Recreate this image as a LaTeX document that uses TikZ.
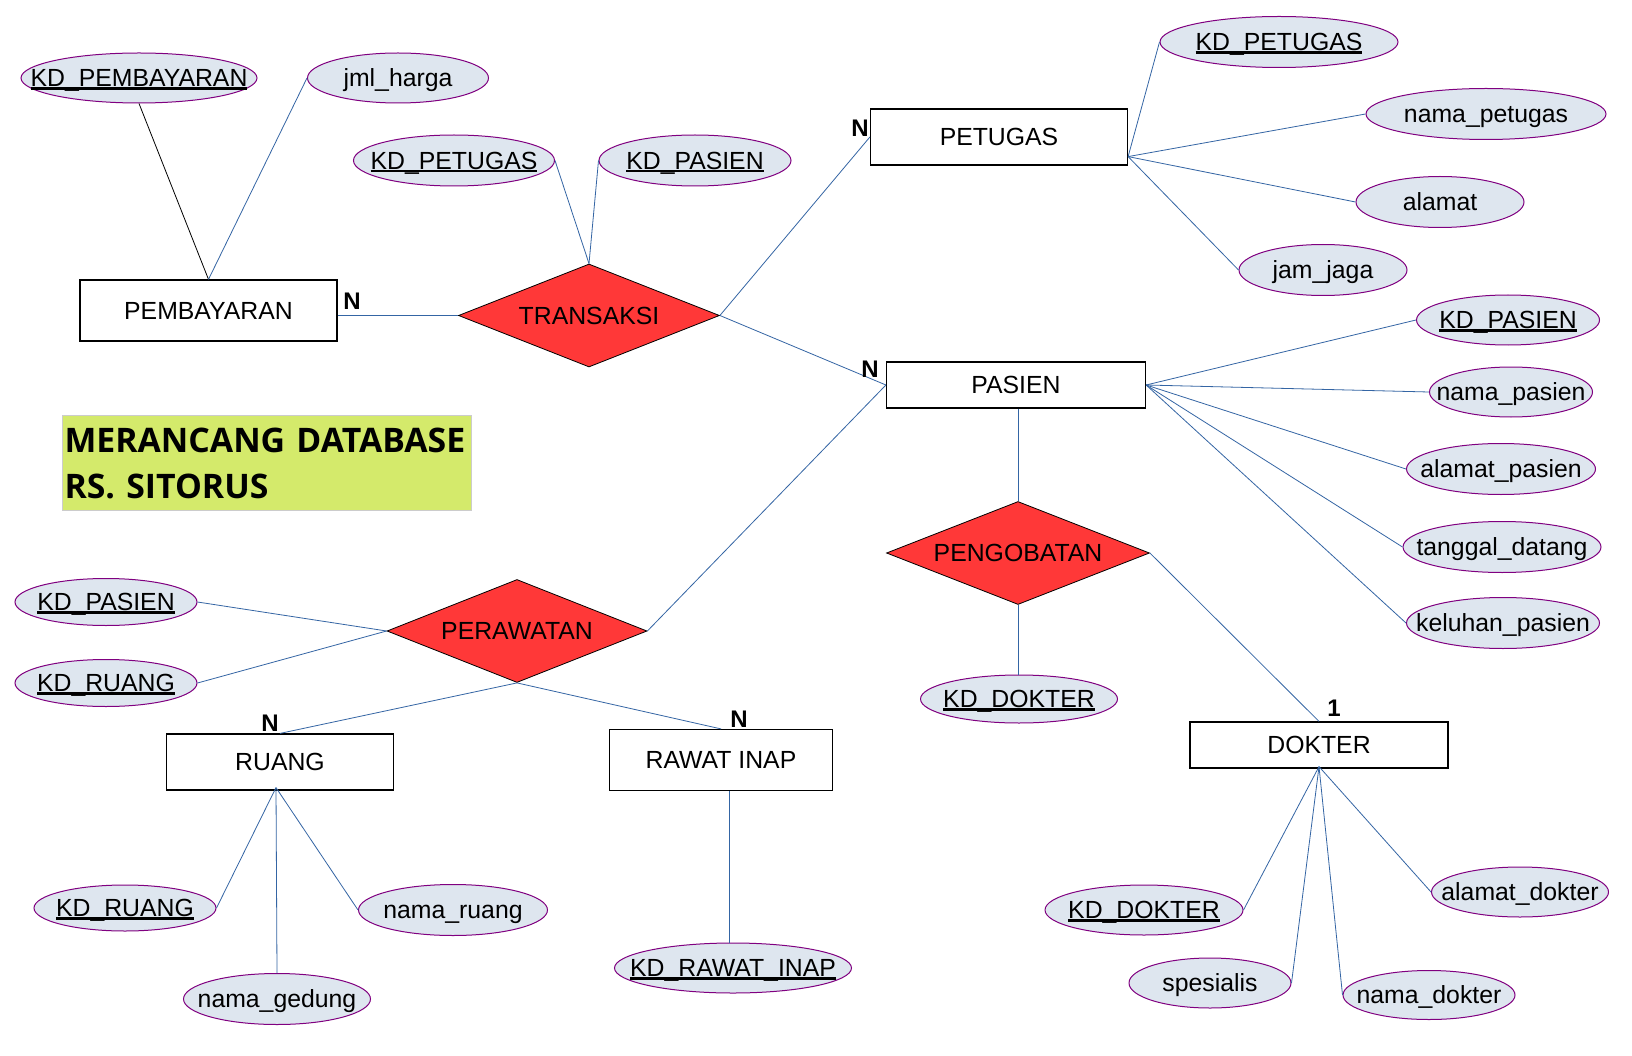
\documentclass[tikz,border=0pt]{standalone}
\usepackage{fontspec}
\setmainfont{Liberation Sans}
\newfontfamily\judulfont{Open Sans}
\usetikzlibrary{shapes.geometric}

\definecolor{merah}{HTML}{FF3838}
\definecolor{biruatr}{HTML}{DEE6EF}
\definecolor{ungu}{HTML}{800080}
\definecolor{garisbiru}{HTML}{3465A4}
\definecolor{hijau}{HTML}{D4EA6B}
\definecolor{abu}{HTML}{CCCCCC}

\newcommand{\isi}[1]{\makebox[0pt]{#1}}
\newcommand{\kunci}[1]{\makebox[0pt]{\setbox0\hbox{#1}\rlap{\rule[-0.12em]{\wd0}{0.1em}}\box0}}

\begin{document}
\begin{tikzpicture}[x=1pt,y=-1pt,
  font=\fontsize{24.8}{29}\selectfont,
  teks/.style={text height=20pt, text depth=2.5pt},
  entitas/.style={teks, draw, line width=1.2pt, fill=white, inner sep=0pt},
  relasi/.style={teks, diamond, draw, line width=0.8pt, fill=merah, aspect=2.5, inner sep=0pt, minimum width=261, minimum height=103},
  atribut/.style={teks, ellipse, draw=ungu, line width=1pt, fill=biruatr, inner sep=0pt, minimum height=50},
  garis/.style={garisbiru, line width=0.8pt},
  kard/.style={teks, inner sep=0pt, font=\fontsize{24}{28}\selectfont\bfseries},
  judul/.style={draw=abu, line width=1pt, fill=hijau, inner xsep=2pt, inner ysep=0pt, text width=405pt, minimum height=95, align=left, font=\judulfont\bfseries\fontsize{33.8}{46}\selectfont}]

\fill[white] (0,0) rectangle (1632,1056);
\useasboundingbox (0,0) rectangle (1632,1056);

% entitas
\node[entitas, minimum width=257, minimum height=61] (pembayaran) at (208.5,310.5) {PEMBAYARAN};
\node[entitas, minimum width=257, minimum height=56] (petugas) at (999,137) {PETUGAS};
\node[entitas, minimum width=259, minimum height=46] (pasien) at (1016,385) {PASIEN};
\node[entitas, minimum width=227, minimum height=56] (ruang) at (280,762) {RUANG};
\node[entitas, minimum width=223, minimum height=61] (rawatinap) at (721,760) {RAWAT INAP};
\node[entitas, minimum width=258, minimum height=46] (dokter) at (1319,745) {DOKTER};

% relasi
\node[relasi] (transaksi) at (589,315.5) {TRANSAKSI};
\node[relasi, minimum width=263] (pengobatan) at (1018,553) {PENGOBATAN};
\node[relasi, minimum width=260] (perawatan) at (517,631) {PERAWATAN};

% atribut pembayaran dan transaksi
\node[atribut, minimum width=236] (kdbayar) at (139,78) {\kunci{KD\_PEMBAYARAN}};
\node[atribut, minimum width=181] (harga) at (398,78) {\isi{jml\_harga}};
\node[atribut, minimum width=201, minimum height=51] (trpetugas) at (454,160.5) {\kunci{KD\_PETUGAS}};
\node[atribut, minimum width=192, minimum height=51] (trpasien) at (695,160.5) {\kunci{KD\_PASIEN}};

% atribut petugas
\node[atribut, minimum width=238, minimum height=51] (ptkd) at (1279,42) {\kunci{KD\_PETUGAS}};
\node[atribut, minimum width=240, minimum height=51] (ptnama) at (1486,114) {\isi{nama\_petugas}};
\node[atribut, minimum width=168, minimum height=51] (ptalamat) at (1440,202) {\isi{alamat}};
\node[atribut, minimum width=168, minimum height=51] (ptjaga) at (1323,270) {\isi{jam\_jaga}};

% atribut pasien
\node[atribut, minimum width=183] (pskd) at (1508,320) {\kunci{KD\_PASIEN}};
\node[atribut, minimum width=163] (psnama) at (1511,392) {\isi{nama\_pasien}};
\node[atribut, minimum width=189, minimum height=51] (psalamat) at (1501,469) {\isi{alamat\_pasien}};
\node[atribut, minimum width=198, minimum height=51] (pstanggal) at (1502,547) {\isi{tanggal\_datang}};
\node[atribut, minimum width=193, minimum height=51] (pskeluhan) at (1503,623) {\isi{keluhan\_pasien}};

% atribut perawatan, ruang, rawat inap
\node[atribut, minimum width=182, minimum height=47] (prkdpasien) at (106,602) {\kunci{KD\_PASIEN}};
\node[atribut, minimum width=182, minimum height=47] (prkdruang) at (106,683) {\kunci{KD\_RUANG}};
\node[atribut, minimum width=182, minimum height=46] (rgkd) at (125,908) {\kunci{KD\_RUANG}};
\node[atribut, minimum width=189, minimum height=51] (rgnama) at (453,910) {\isi{nama\_ruang}};
\node[atribut, minimum width=187, minimum height=51] (rggedung) at (277,999) {\isi{nama\_gedung}};
\node[atribut, minimum width=237] (rikd) at (733,968) {\kunci{KD\_RAWAT\_INAP}};

% atribut pengobatan dan dokter
\node[atribut, minimum width=197, minimum height=48] (pgkd) at (1019,699) {\kunci{KD\_DOKTER}};
\node[atribut, minimum width=198] (dkkd) at (1144,910) {\kunci{KD\_DOKTER}};
\node[atribut, minimum width=162] (dkspesialis) at (1210,983) {\isi{spesialis}};
\node[atribut, minimum width=172, minimum height=49] (dknama) at (1429,995) {\isi{nama\_dokter}};
\node[atribut, minimum width=177] (dkalamat) at (1520,892) {\isi{alamat\_dokter}};

% judul
\node[judul, anchor=north west] (judulbox) at (62,415) {MERANCANG DATABASE\\RS. SITORUS};

% garis
\draw[black, line width=0.8pt] (kdbayar.south) -- (pembayaran.north);
\draw[garis] (harga.west) -- (pembayaran.north);
\draw[garis] (pembayaran.east |- transaksi.west) -- (transaksi.west);
\draw[garis] (trpetugas.east) -- (transaksi.north);
\draw[garis] (trpasien.west) -- (transaksi.north);
\draw[garis] (transaksi.east) -- (petugas.west);
\draw[garis] (transaksi.east) -- (pasien.west);

\coordinate (ptsimpul) at ([yshift=9pt]petugas.south east);
\foreach \a in {ptkd, ptnama, ptalamat, ptjaga}
  \draw[garis] (ptsimpul) -- (\a.west);

\foreach \a in {pskd, psnama, psalamat, pstanggal, pskeluhan}
  \draw[garis] (pasien.east) -- (\a.west);

\draw[garis] (pengobatan.north |- pasien.south) -- (pengobatan.north);
\draw[garis] (pengobatan.south) -- (pengobatan.south |- pgkd.north);
\draw[garis] (pengobatan.east) -- (dokter.north);

\coordinate (dksimpul) at ([yshift=2pt]dokter.south);
\draw[garis] (dksimpul) -- (dkkd.east);
\draw[garis] (dksimpul) -- (dkspesialis.east);
\draw[garis] (dksimpul) -- (dknama.west);
\draw[garis] (dksimpul) -- (dkalamat.west);

\draw[garis] (prkdpasien.east) -- (perawatan.west);
\draw[garis] (prkdruang.east) -- (perawatan.west);
\draw[garis] (perawatan.east) -- (pasien.west);
\draw[garis] (perawatan.south) -- (ruang.north);
\draw[garis] (perawatan.south) -- (rawatinap.north);

\coordinate (rgsimpul) at ([yshift=3pt,xshift=-4pt]ruang.south);
\draw[garis] (rgsimpul) -- (rgkd.east);
\draw[garis] (rgsimpul) -- (rggedung.north);
\draw[garis] (rgsimpul) -- (rgnama.west);
\draw[garis] ([xshift=8pt]rawatinap.south) -- ([xshift=8pt]rawatinap.south |- rikd.north);

% kardinalitas
\node[kard] (n1) at (352,301) {N};
\node[kard] (n2) at (860,128) {N};
\node[kard] (n3) at (870,369) {N};
\node[kard] (n4) at (270,723) {N};
\node[kard] (n5) at (739,719) {N};
\node[kard] (satu) at (1334,708) {1};

\end{tikzpicture}
\end{document}
